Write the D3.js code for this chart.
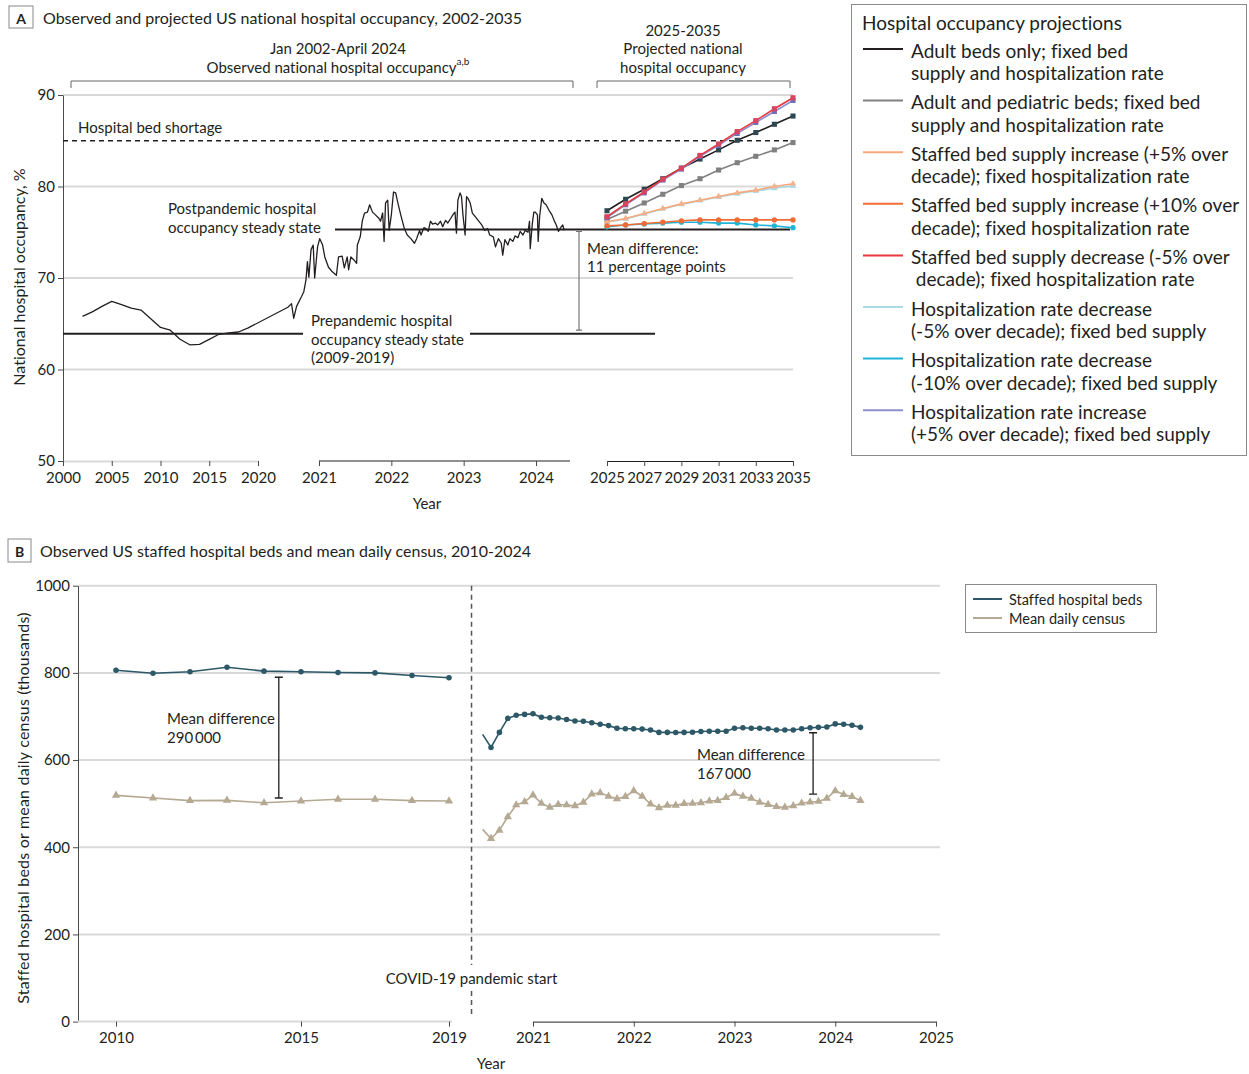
<!DOCTYPE html>
<html>
<head>
<meta charset="utf-8">
<script src="https://cdn.jsdelivr.net/npm/d3@7"></script>
<style>
  body { margin: 0; background: #fff; }
  svg text { font-family: Lato, "Noto Sans", sans-serif; fill: #231f20; font-variant-ligatures: none; }
</style>
</head>
<body>
<svg id="chart" width="1249" height="1074"></svg>
<script>
// ---------- Panel A data: national hospital occupancy (%) ----------
const annualYears = [2002, 2003, 2004, 2005, 2006, 2007, 2008, 2009, 2010, 2011, 2012, 2013, 2014, 2015, 2016, 2017, 2018, 2019];
const annualOccupancy = [65.8, 66.3, 66.9, 67.45, 67.1, 66.7, 66.5, 65.55, 64.6, 64.3, 63.3, 62.7, 62.75, 63.3, 63.85, 64.0, 64.1, 64.55];

// weekly observations, [decimal year, occupancy %]
const weeklyOccupancy = [
  [2020.57, 66.8], [2020.62, 67.2], [2020.65, 65.6], [2020.69, 66.9], [2020.76, 68.0], [2020.79, 68.5],
  [2020.82, 69.8], [2020.84, 71.8], [2020.86, 70.1], [2020.89, 73.1], [2020.92, 73.6], [2020.94, 70.0],
  [2020.98, 73.4], [2021.01, 74.3], [2021.05, 73.6], [2021.08, 72.3], [2021.13, 71.2], [2021.18, 70.7],
  [2021.24, 70.3], [2021.27, 72.3], [2021.32, 72.4], [2021.35, 71.1], [2021.39, 72.3], [2021.41, 70.9],
  [2021.44, 72.3], [2021.48, 72.0], [2021.52, 71.6], [2021.53, 73.6], [2021.57, 74.5], [2021.60, 76.3],
  [2021.63, 77.1], [2021.67, 77.2], [2021.70, 78.0], [2021.74, 77.2], [2021.78, 76.9], [2021.83, 76.5],
  [2021.85, 76.2], [2021.88, 77.1], [2021.90, 74.0], [2021.92, 78.2], [2021.95, 78.5], [2021.97, 75.2],
  [2022.00, 76.9], [2022.03, 79.4], [2022.06, 79.3], [2022.09, 78.2], [2022.13, 76.9], [2022.18, 75.4],
  [2022.22, 74.7], [2022.27, 74.3], [2022.32, 73.8], [2022.35, 74.3], [2022.39, 75.2], [2022.41, 74.7],
  [2022.45, 75.5], [2022.48, 75.4], [2022.51, 75.1], [2022.54, 76.2], [2022.57, 75.9], [2022.61, 76.0],
  [2022.64, 75.8], [2022.68, 76.2], [2022.71, 75.6], [2022.75, 76.3], [2022.78, 76.0], [2022.82, 76.5],
  [2022.85, 76.9], [2022.88, 77.2], [2022.90, 74.9], [2022.92, 78.5], [2022.95, 79.3], [2022.97, 78.9],
  [2022.99, 76.9], [2023.02, 74.7], [2023.04, 78.9], [2023.06, 78.7], [2023.09, 78.2], [2023.12, 77.1],
  [2023.16, 76.7], [2023.20, 76.3], [2023.25, 75.8], [2023.29, 75.2], [2023.33, 75.4], [2023.36, 74.7],
  [2023.41, 74.5], [2023.44, 73.4], [2023.48, 74.3], [2023.52, 73.8], [2023.54, 72.5], [2023.57, 74.2],
  [2023.61, 73.6], [2023.64, 74.3], [2023.68, 74.0], [2023.71, 74.6], [2023.75, 74.4], [2023.78, 75.1],
  [2023.82, 74.7], [2023.85, 75.2], [2023.89, 75.0], [2023.91, 76.2], [2023.92, 73.2], [2023.95, 76.0],
  [2023.97, 77.2], [2023.99, 77.2], [2024.02, 76.9], [2024.03, 74.0], [2024.05, 76.7], [2024.08, 78.7],
  [2024.11, 78.2], [2024.14, 78.0], [2024.18, 77.4], [2024.22, 76.9], [2024.25, 76.3], [2024.28, 75.8],
  [2024.31, 75.1], [2024.34, 75.5], [2024.37, 75.8], [2024.39, 75.2]
];

const shortageLevel = 85;
const prepandemicMean = 63.9;
const postpandemicMean = 75.3;
const meanGapPoints = 11;

// projections 2025-2035
const projYears = [2025, 2026, 2027, 2028, 2029, 2030, 2031, 2032, 2033, 2034, 2035];
const projAdultOnly   = [77.35, 78.6, 79.7, 80.85, 82.0, 83.0, 84.0, 85.05, 85.9, 86.8, 87.7];
const projAdultPeds   = [76.4, 77.3, 78.2, 79.15, 80.1, 80.85, 81.8, 82.6, 83.3, 84.0, 84.8];
const projSupplyUp5   = [76.15, 76.5, 77.05, 77.6, 78.1, 78.5, 78.9, 79.3, 79.6, 80.0, 80.3];
const projSupplyUp10  = [75.7, 75.8, 75.95, 76.1, 76.25, 76.35, 76.35, 76.35, 76.35, 76.35, 76.35];
const projSupplyDown5 = [76.7, 78.1, 79.4, 80.8, 82.0, 83.4, 84.65, 86.0, 87.2, 88.5, 89.7];
const projRateDown5   = [76.1, 76.45, 77.0, 77.55, 78.05, 78.45, 78.85, 79.2, 79.5, 79.8, 80.05];
const projRateDown10  = [75.6, 75.8, 75.9, 76.0, 76.1, 76.1, 76.0, 76.0, 75.8, 75.7, 75.5];
const projRateUp5     = [76.6, 78.0, 79.3, 80.7, 81.9, 83.3, 84.5, 85.8, 87.0, 88.2, 89.4];

const scenarioLabels = [
  ["Adult beds only; fixed bed", "supply and hospitalization rate"],
  ["Adult and pediatric beds; fixed bed", "supply and hospitalization rate"],
  ["Staffed bed supply increase (+5% over", "decade); fixed hospitalization rate"],
  ["Staffed bed supply increase (+10% over", "decade); fixed hospitalization rate"],
  ["Staffed bed supply decrease (-5% over", " decade); fixed hospitalization rate"],
  ["Hospitalization rate decrease", "(-5% over decade); fixed bed supply"],
  ["Hospitalization rate decrease", "(-10% over decade); fixed bed supply"],
  ["Hospitalization rate increase", "(+5% over decade); fixed bed supply"]
];

// ---------- Panel B data: staffed beds and mean daily census (thousands) ----------
const annualYearsB = [2010, 2011, 2012, 2013, 2014, 2015, 2016, 2017, 2018, 2019];
const bedsAnnual   = [806, 799, 802.5, 813, 804, 802.5, 801, 800, 794, 789];
const censusAnnual = [519, 513, 507, 507.5, 502, 506, 510, 510, 507, 506];

// monthly, July 2020 through April 2024
const monthlyStart = 2020 + 6 / 12;
const bedsMonthly = [659, 629, 663.5, 695.6, 703, 704.8, 706, 698, 697, 696.5, 693, 689.5, 689, 685.6, 682, 679,
  673, 672, 672, 671, 669, 663.5, 663.5, 663, 663.5, 664, 665.5, 666, 666, 666, 673, 674, 673, 673, 672, 669,
  669, 669, 672, 674, 675, 676, 683, 682, 680, 675];
const censusMonthly = [441, 420, 439, 470, 497, 504, 519.7, 500.7, 491.5, 498, 497, 495, 503, 522, 525, 517,
  511, 516, 529.6, 517, 499, 490.6, 496, 496, 500, 500.5, 502, 506, 507, 514, 523.6, 516.7, 512, 503, 498, 493,
  491.5, 495, 501, 503.7, 505, 512, 529.6, 521, 516, 507];

const covidStart = 2020.39;
const gapBefore = { year: 2014.4, top: 790, bottom: 513, label: ["Mean difference", "290\u2009000"] };
const gapAfter  = { year: 2023.78, top: 662.6, bottom: 522, label: ["Mean difference", "167\u2009000"] };

// ---------- shared styling ----------
const ink = "#231f20";
const gridColor = "#d9d9d9";
const axisColor = "#4a4a4a";
const svg = d3.select("#chart");

function txt(g, x, y, s, size, anchor) {
  return g.append("text").attr("x", x).attr("y", y)
    .attr("font-size", size).attr("text-anchor", anchor || "start")
    .attr("dominant-baseline", "central")
    .style("white-space", "pre").text(s);
}

function styleAxis(g, size) {
  g.attr("font-family", null).attr("font-size", null);
  g.selectAll(".tick line").attr("stroke", axisColor);
  g.selectAll(".tick text").attr("font-size", size).attr("fill", ink);
}

function panelTag(x, y, w, h, letter) {
  svg.append("rect").attr("x", x).attr("y", y).attr("width", w).attr("height", h)
    .attr("fill", "none").attr("stroke", "#8a8a8a").attr("stroke-width", 1);
  txt(svg, x + w / 2, y + h / 2 + 1, letter, 14, "middle").attr("font-weight", "bold");
}

// ====================== PANEL A ======================
const xA1 = d3.scaleLinear().domain([2000, 2020]).range([63, 258]);
const xA2 = d3.scaleLinear().domain([2021, 2024]).range([319, 536]);
const xA3 = d3.scaleLinear().domain([2025, 2035]).range([607, 793]);
const yA = d3.scaleLinear().domain([50, 90]).range([461, 95]);
const A = svg.append("g");

panelTag(9, 6, 24, 22, "A");
txt(A, 43, 17, "Observed and projected US national hospital occupancy, 2002-2035", 16);

// gridlines
A.selectAll("line.grid").data([60, 70, 80, 90]).join("line")
  .attr("x1", xA1(2000)).attr("x2", xA3(2035))
  .attr("y1", d => yA(d)).attr("y2", d => yA(d))
  .attr("stroke", gridColor).attr("stroke-width", 2);

// period brackets and headers
function bracket(x1, x2, y) {
  A.append("path").attr("d", `M${x1},${y + 7}V${y}H${x2}V${y + 7}`)
    .attr("fill", "none").attr("stroke", "#666").attr("stroke-width", 1);
}
bracket(71, 573, 81);
bracket(597, 790, 81);
txt(A, 338, 48, "Jan 2002-April 2024", 15, "middle");
const obs = txt(A, 338, 67, "Observed national hospital occupancy", 15, "middle");
obs.append("tspan").attr("font-size", 10).attr("dy", -6).text("a,b");
txt(A, 683, 30, "2025-2035", 15, "middle");
txt(A, 683, 48, "Projected national", 15, "middle");
txt(A, 683, 67, "hospital occupancy", 15, "middle");

// axes
const yAxisA = A.append("g").attr("transform", `translate(${xA1(2000)},0)`)
  .call(d3.axisLeft(yA).tickValues([50, 60, 70, 80, 90]).tickSize(5).tickSizeOuter(0).tickPadding(3));
styleAxis(yAxisA, 15);
yAxisA.select(".domain").attr("stroke", axisColor);

const ax1 = A.append("g").attr("transform", `translate(0,${yA(50)})`)
  .call(d3.axisBottom(xA1).tickValues([2000, 2005, 2010, 2015, 2020]).tickFormat(d3.format("d"))
    .tickSize(5).tickSizeOuter(0).tickPadding(6));
styleAxis(ax1, 15);
ax1.select(".domain").attr("stroke", gridColor).attr("stroke-width", 2);

const ax2 = A.append("g").attr("transform", `translate(0,${yA(50)})`)
  .call(d3.axisBottom(xA2).tickValues([2021, 2022, 2023, 2024]).tickFormat(d3.format("d"))
    .tickSize(5).tickSizeOuter(0).tickPadding(6));
styleAxis(ax2, 15);
ax2.select(".domain").attr("stroke", ink).attr("d", `M${xA2(2021)},0H${xA2(2024.47)}`);

const ax3 = A.append("g").attr("transform", `translate(0,${yA(50)})`)
  .call(d3.axisBottom(xA3).tickValues([2025, 2027, 2029, 2031, 2033, 2035]).tickFormat(d3.format("d"))
    .tickSize(5).tickSizeOuter(0).tickPadding(6));
styleAxis(ax3, 15);
ax3.select(".domain").attr("stroke", ink);

txt(A, 427, 503, "Year", 15, "middle");
txt(A, 0, 0, "National hospital occupancy, %", 16, "middle")
  .attr("transform", "translate(18,277) rotate(-90)");

// hospital bed shortage threshold
A.append("line").attr("x1", xA1(2000)).attr("x2", xA3(2035))
  .attr("y1", yA(shortageLevel)).attr("y2", yA(shortageLevel))
  .attr("stroke", ink).attr("stroke-width", 1.5).attr("stroke-dasharray", "5,4");
txt(A, 78, 127, "Hospital bed shortage", 15);

// steady-state reference lines
A.append("line").attr("x1", xA1(2000)).attr("x2", 303)
  .attr("y1", yA(prepandemicMean)).attr("y2", yA(prepandemicMean))
  .attr("stroke", ink).attr("stroke-width", 2);
A.append("line").attr("x1", 470).attr("x2", 655)
  .attr("y1", yA(prepandemicMean)).attr("y2", yA(prepandemicMean))
  .attr("stroke", ink).attr("stroke-width", 2);
A.append("line").attr("x1", 335).attr("x2", 790)
  .attr("y1", yA(postpandemicMean)).attr("y2", yA(postpandemicMean))
  .attr("stroke", ink).attr("stroke-width", 2);

txt(A, 168, 208, "Postpandemic hospital", 15);
txt(A, 168, 227, "occupancy steady state", 15);
txt(A, 311, 320, "Prepandemic hospital", 15);
txt(A, 311, 339, "occupancy steady state", 15);
txt(A, 311, 357, "(2009-2019)", 15);

// mean difference bracket
const gx = 579, gTop = yA(postpandemicMean) + 2, gBot = yA(postpandemicMean - meanGapPoints);
A.append("path").attr("d", `M${gx - 3},${gTop}H${gx + 3}M${gx},${gTop}V${gBot}M${gx - 3},${gBot}H${gx + 3}`)
  .attr("fill", "none").attr("stroke", "#777").attr("stroke-width", 1.2);
txt(A, 587, 248, "Mean difference:", 15);
txt(A, 587, 266, "11 percentage points", 15);

// observed occupancy: annual series then weekly series, joined as one trace
const observedPts = annualYears.map((yr, i) => [xA1(yr), yA(annualOccupancy[i])])
  .concat(weeklyOccupancy.map(d => [xA2(d[0]), yA(d[1])]));
A.append("path").attr("d", d3.line()(observedPts))
  .attr("fill", "none").attr("stroke", ink).attr("stroke-width", 1.3).attr("stroke-linejoin", "round");

// projection scenarios
const scenarios = [
  { values: projAdultOnly,   line: "#231f20", mark: "#2d4852", shape: d3.symbolSquare },
  { values: projAdultPeds,   line: "#808080", mark: "#808080", shape: d3.symbolSquare },
  { values: projSupplyUp5,   line: "#f6a87c", mark: "#f6b08a", shape: d3.symbolTriangle },
  { values: projSupplyUp10,  line: "#f26b35", mark: "#f26b35", shape: d3.symbolCircle },
  { values: projSupplyDown5, line: "#e8383d", mark: "#d94460", shape: d3.symbolSquare },
  { values: projRateDown5,   line: "#a8dbe6", mark: "#a8dbe6", shape: d3.symbolTriangle },
  { values: projRateDown10,  line: "#1eb5d6", mark: "#1eb5d6", shape: d3.symbolCircle },
  { values: projRateUp5,     line: "#8b8fcf", mark: "#6f70b8", shape: d3.symbolSquare }
];
const drawOrder = [1, 5, 2, 6, 3, 0, 7, 4];
const projLine = d3.line().x((d, i) => xA3(projYears[i])).y(d => yA(d));
drawOrder.forEach(k => {
  const s = scenarios[k];
  const g = A.append("g");
  g.append("path").attr("d", projLine(s.values))
    .attr("fill", "none").attr("stroke", s.line).attr("stroke-width", 1.6);
  g.selectAll("path.m").data(s.values).join("path").attr("class", "m")
    .attr("transform", (d, i) => `translate(${xA3(projYears[i])},${yA(d)})`)
    .attr("d", d3.symbol().type(s.shape).size(s.shape === d3.symbolCircle ? 22 : (s.shape === d3.symbolTriangle ? 18 : 26)))
    .attr("fill", s.mark);
});

// legend for projections
const LA = svg.append("g");
LA.append("rect").attr("x", 851.5).attr("y", 4.5).attr("width", 395).attr("height", 451)
  .attr("fill", "#fff").attr("stroke", "#8a8a8a").attr("stroke-width", 1);
txt(LA, 862, 22, "Hospital occupancy projections", 19);
scenarioLabels.forEach((lab, i) => {
  const y0 = 49 + i * 51.6;
  LA.append("line").attr("x1", 863).attr("x2", 903).attr("y1", y0).attr("y2", y0)
    .attr("stroke", scenarios[i].line).attr("stroke-width", 2);
  txt(LA, 911, y0 + 1, lab[0], 19);
  txt(LA, 911, y0 + 23.5, lab[1], 19);
});

// ====================== PANEL B ======================
const xB1 = d3.scaleLinear().domain([2010, 2019]).range([116, 449]);
const xB2 = d3.scaleLinear().domain([2021, 2025]).range([533, 936]);
const yB = d3.scaleLinear().domain([0, 1000]).range([1021.6, 585.7]);
const B = svg.append("g");

panelTag(8, 539, 23, 23, "B");
txt(B, 40, 550, "Observed US staffed hospital beds and mean daily census, 2010-2024", 16);

B.selectAll("line.grid").data([200, 400, 600, 800, 1000]).join("line")
  .attr("x1", 78).attr("x2", 940)
  .attr("y1", d => yB(d)).attr("y2", d => yB(d))
  .attr("stroke", gridColor).attr("stroke-width", 2);

const yAxisB = B.append("g").attr("transform", "translate(78,0)")
  .call(d3.axisLeft(yB).tickValues([0, 200, 400, 600, 800, 1000]).tickFormat(d3.format("d"))
    .tickSize(5).tickSizeOuter(0).tickPadding(3));
styleAxis(yAxisB, 15);
yAxisB.select(".domain").attr("stroke", axisColor);

const bx1 = B.append("g").attr("transform", `translate(0,${yB(0)})`)
  .call(d3.axisBottom(xB1).tickValues([2010, 2015, 2019]).tickFormat(d3.format("d"))
    .tickSize(5).tickSizeOuter(0).tickPadding(6));
styleAxis(bx1, 15);
bx1.select(".domain").attr("stroke", gridColor).attr("stroke-width", 2)
  .attr("d", `M78,0H${xB1(2019) + 3}`);

const bx2 = B.append("g").attr("transform", `translate(0,${yB(0)})`)
  .call(d3.axisBottom(xB2).tickValues([2021, 2022, 2023, 2024, 2025]).tickFormat(d3.format("d"))
    .tickSize(5).tickSizeOuter(0).tickPadding(6));
styleAxis(bx2, 15);
bx2.select(".domain").attr("stroke", ink);

txt(B, 491, 1063, "Year", 15, "middle");
txt(B, 0, 0, "Staffed hospital beds or mean daily census (thousands)", 16, "middle")
  .attr("letter-spacing", 0.2)
  .attr("transform", "translate(22,808) rotate(-90)");

// pandemic start marker
const cx = xB2(covidStart);
B.append("line").attr("x1", cx).attr("x2", cx).attr("y1", yB(1000)).attr("y2", 965)
  .attr("stroke", "#555").attr("stroke-width", 1.5).attr("stroke-dasharray", "5,4");
B.append("line").attr("x1", cx).attr("x2", cx).attr("y1", 991).attr("y2", 1015)
  .attr("stroke", "#555").attr("stroke-width", 1.5).attr("stroke-dasharray", "5,4");
txt(B, cx, 978, "COVID-19 pandemic start", 15, "middle");

const bedsColor = "#2d5867";
const censusColor = "#b5a993";

function seriesB(xs, vals, color, shape, firstMarked) {
  const pts = vals.map((v, i) => [xs[i], yB(v)]);
  B.append("path").attr("d", d3.line()(pts))
    .attr("fill", "none").attr("stroke", color).attr("stroke-width", 1.6);
  B.selectAll(null).data(pts.slice(firstMarked)).join("path")
    .attr("transform", d => `translate(${d[0]},${d[1]})`)
    .attr("d", d3.symbol().type(shape).size(shape === d3.symbolCircle ? 24 : 30))
    .attr("fill", color);
}
const annualX = annualYearsB.map(y => xB1(y));
const monthlyX = bedsMonthly.map((v, i) => xB2(monthlyStart + i / 12));
seriesB(annualX, bedsAnnual, bedsColor, d3.symbolCircle, 0);
seriesB(annualX, censusAnnual, censusColor, d3.symbolTriangle, 0);
seriesB(monthlyX, bedsMonthly, bedsColor, d3.symbolCircle, 1);
seriesB(monthlyX, censusMonthly, censusColor, d3.symbolTriangle, 1);

// mean difference brackets
function gapBracket(x, top, bottom) {
  B.append("path").attr("d", `M${x - 4},${yB(top)}H${x + 4}M${x},${yB(top)}V${yB(bottom)}M${x - 4},${yB(bottom)}H${x + 4}`)
    .attr("fill", "none").attr("stroke", ink).attr("stroke-width", 1.3);
}
gapBracket(xB1(gapBefore.year), gapBefore.top, gapBefore.bottom);
txt(B, 167, 718, gapBefore.label[0], 15);
txt(B, 167, 737, gapBefore.label[1], 15);
gapBracket(xB2(gapAfter.year), gapAfter.top, gapAfter.bottom);
txt(B, 697, 754, gapAfter.label[0], 15);
txt(B, 697, 773, gapAfter.label[1], 15);

// legend for panel B
const LB = svg.append("g");
LB.append("rect").attr("x", 965.5).attr("y", 584.5).attr("width", 191).attr("height", 48)
  .attr("fill", "#fff").attr("stroke", "#8a8a8a").attr("stroke-width", 1);
[["Staffed hospital beds", bedsColor], ["Mean daily census", censusColor]].forEach((d, i) => {
  const y0 = 599 + i * 19;
  LB.append("line").attr("x1", 973).attr("x2", 1002).attr("y1", y0).attr("y2", y0)
    .attr("stroke", d[1]).attr("stroke-width", 2);
  txt(LB, 1009, y0, d[0], 14.5);
});
</script>
</body>
</html>
